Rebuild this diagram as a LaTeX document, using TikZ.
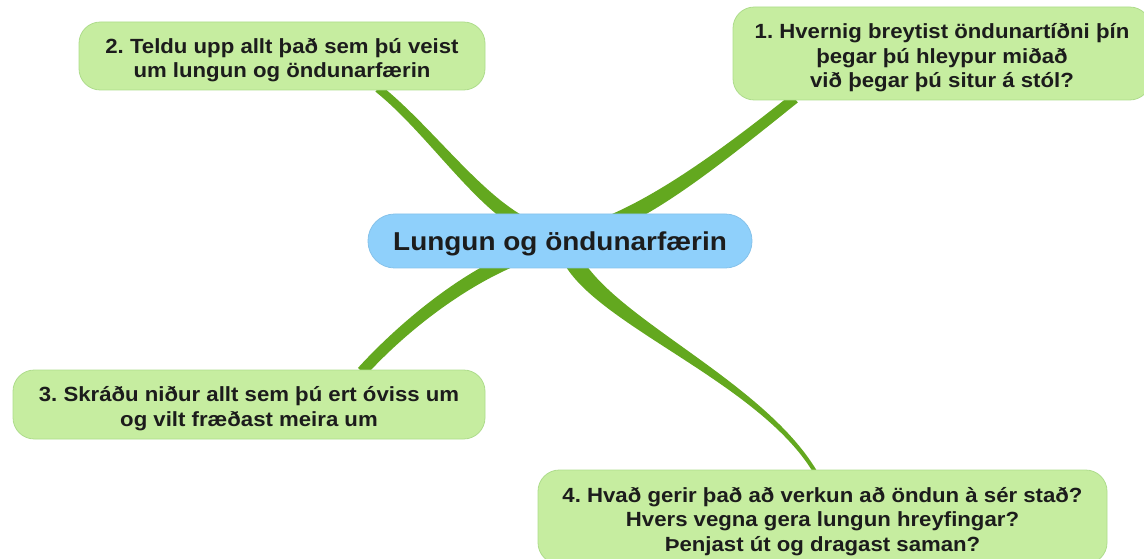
\documentclass[tikz,border=0pt]{standalone}
\usepackage{fontspec}
\setmainfont{Liberation Sans}[FakeStretch=1.08]
\usetikzlibrary{calc,backgrounds}
\definecolor{topicfill}{HTML}{8FD0FB}
\definecolor{topicline}{HTML}{86C2EA}
\definecolor{ideafill}{HTML}{C6EDA0}
\definecolor{idealine}{HTML}{AEDC8C}
\definecolor{twig}{HTML}{63A81F}
\definecolor{ink}{HTML}{1C1C1C}
\frenchspacing
\newcommand\topstrut{\rule{0pt}{17.6pt}}
% tapered branch: start, control 1, control 2, end, half width at start, half width at end
\newcommand\taper[6]{%
  \fill[branch] ($(#1)!#5!90:(#2)$) .. controls ($(#2)!#5!-90:(#1)$) and ($(#3)!#6!90:(#4)$) .. ($(#4)!#6!-90:(#3)$)
    -- ($(#4)!#6!90:(#3)$) .. controls ($(#3)!#6!-90:(#4)$) and ($(#2)!#5!90:(#1)$) .. ($(#1)!#5!-90:(#2)$) -- cycle;}
\begin{document}
\begin{tikzpicture}[x=.75pt,y=-.75pt,line width=.6pt,
  every node/.style={font=\bfseries\fontsize{15.4}{18.4}\selectfont,text=ink,align=center,inner sep=0pt},
  topic/.style={fill=topicfill,draw=topicline,rounded corners=20pt,minimum width=288pt,minimum height=40.5pt,
    font=\bfseries\fontsize{19.4}{23}\selectfont,execute at begin node={\rule{0pt}{18.7pt}}},
  idea/.style={fill=ideafill,draw=idealine,rounded corners=16pt},
  branch/.style={fill=twig}]
  \useasboundingbox (0,0) rectangle (1144,559);
  \clip (0,0) rectangle (1144,559);
  \node[topic] (ctr) at (560,241) {Lungun og öndunarfærin};
  \node[idea,minimum width=313.5pt,minimum height=69.75pt] (q1) at (942,53.5)
    {\topstrut1. Hvernig breytist öndunartíðni þín\\þegar þú hleypur miðað\\við þegar þú situr á stól?};
  \node[idea,minimum width=304.5pt,minimum height=51pt] (q2) at (282,56)
    {\topstrut2. Teldu upp allt það sem þú veist\\um lungun og öndunarfærin};
  \node[idea,minimum width=354pt,minimum height=51.75pt] (q3) at (249,404.5)
    {\topstrut3. Skráðu niður allt sem þú ert óviss um\\og vilt fræðast meira um};
  \node[idea,minimum width=426.75pt,minimum height=70.5pt] (q4) at (822.5,517)
    {\topstrut4. Hvað gerir það að verkun að öndun à sér stað?\\Hvers vegna gera lungun hreyfingar?\\Þenjast út og dragast saman?};
  \begin{scope}[on background layer]
    \coordinate (s1) at ($(ctr.north)+(40,14)$);
    \coordinate (e1) at ($(q1.south west)+(62,-2)$);
    \coordinate (s2) at ($(ctr.north)+(-30,14)$);
    \coordinate (e2) at ($(q2.south)+(96,-2)$);
    \coordinate (s3) at ($(ctr.south)+(-40,-12)$);
    \coordinate (e3) at ($(q3.north)+(113,2)$);
    \coordinate (s4) at ($(ctr.south)+(10,-13)$);
    \coordinate (e4) at ($(q4.north)+(-7.5,2)$);
    \taper{s1}{660,205}{730,150}{e1}{6pt}{3.9pt}
    \taper{s2}{480,205}{430,130}{e2}{5.4pt}{3.1pt}
    \taper{s3}{460,280}{400,330}{e3}{5.25pt}{4.1pt}
    \taper{s4}{600,320}{760,380}{e4}{6.75pt}{1.5pt}
  \end{scope}
\end{tikzpicture}
\end{document}
